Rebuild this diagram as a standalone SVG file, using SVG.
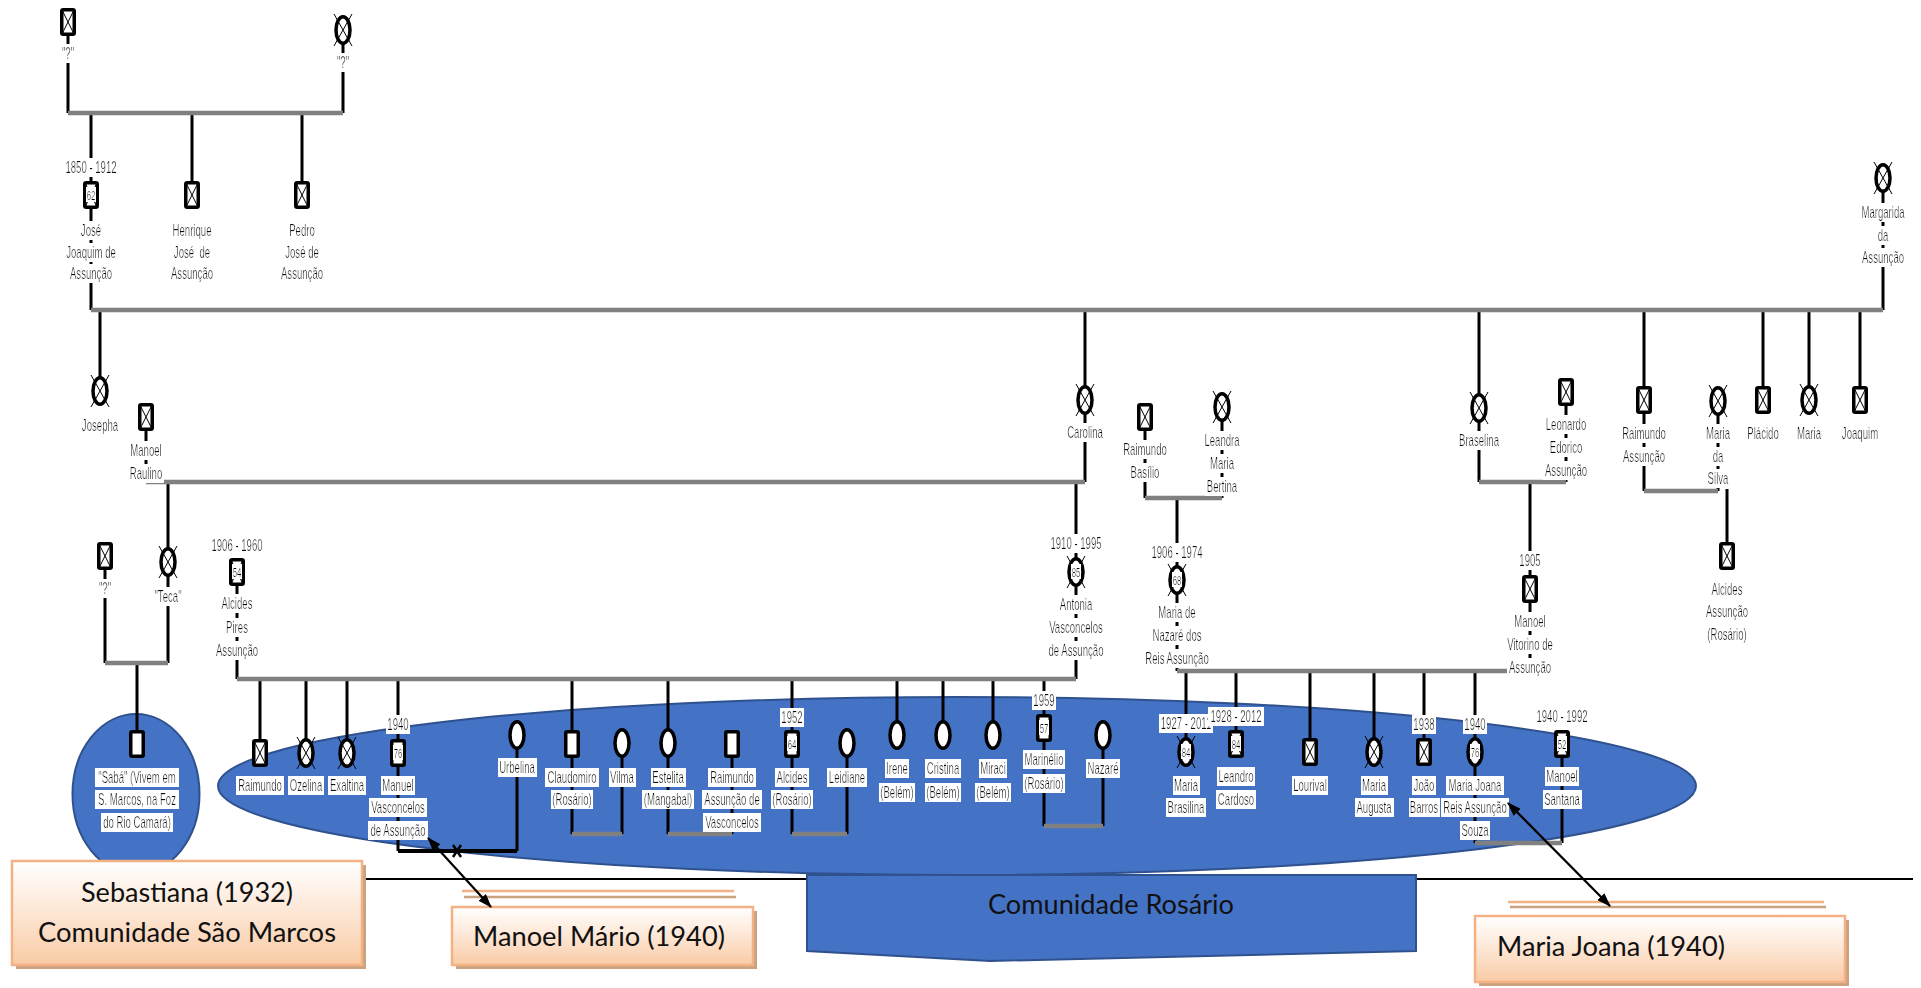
<svg xmlns="http://www.w3.org/2000/svg" width="1921" height="988" viewBox="0 0 1921 988">
<style>
.c{stroke:#000;stroke-width:3;fill:none}
.g{stroke:#808080;stroke-width:4.5;fill:none}
.sym{fill:#fff;stroke:#000;stroke-width:3.5}
.x{stroke:#000;stroke-width:1;fill:none}
.t{font-family:"Liberation Sans",Arial,sans-serif;font-size:16px;text-anchor:middle;fill:#111;filter:url(#wb)}
.n{font-family:"Liberation Sans",Arial,sans-serif;font-size:13px;text-anchor:middle;fill:#000;filter:url(#wb)}
.big{font-family:Lato,"Liberation Sans",sans-serif;font-size:26px;text-anchor:middle;fill:#111}
.box{fill:url(#peach);stroke:#f4b183;stroke-width:2.5}
.sh{fill:#c9a27f}
.blue{fill:#4472c4;stroke:#2f528f;stroke-width:2}
.arr{stroke:#000;stroke-width:2.2;fill:none;marker-start:url(#ah);marker-end:url(#ah)}
</style>
<defs>
<filter id="wb" x="-0.03" y="0" width="1.06" height="1">
<feFlood flood-color="#fff"/>
<feComposite in="SourceGraphic"/>
</filter>
<linearGradient id="peach" x1="0" y1="0" x2="0" y2="1">
<stop offset="0" stop-color="#ffffff"/>
<stop offset="0.5" stop-color="#fde6d4"/>
<stop offset="1" stop-color="#f9cba5"/>
</linearGradient>
<marker id="ah" viewBox="0 0 14 10" refX="13" refY="5" markerWidth="14" markerHeight="10" markerUnits="userSpaceOnUse" orient="auto-start-reverse">
<path d="M0 0L14 5L0 10Z" fill="#000"/>
</marker>
<!-- male (living) -->
<g id="mb"><rect x="-6.25" y="-12.25" width="12.5" height="24.5" rx="1.5" class="sym"/></g>
<!-- male (deceased) -->
<g id="md"><use href="#mb"/><path d="M-6 -12L6 12M6 -12L-6 12" class="x"/></g>
<!-- female (living) -->
<g id="fb"><ellipse rx="7" ry="13.25" class="sym"/></g>
<!-- female (deceased) -->
<g id="fd"><use href="#fb"/><path d="M-9 -16L9 16M9 -16L-9 16" class="x"/></g>
</defs>

<rect width="1921" height="988" fill="#fff"/>

<!-- community areas -->
<g id="areas">
<ellipse cx="957" cy="786" rx="739" ry="89" class="blue"/>
<ellipse cx="136" cy="794" rx="63.5" ry="80" class="blue"/>
<path d="M365 879H1913" stroke="#000" stroke-width="2"/>
</g>

<g id="connectors">
<path class="c" d="M68 22V113M343 30V113M91 113V310M192 113V195M302 113V195M1883 178V310"/>
<path class="c" d="M100 310V391M146 417V482M1085 310V482M1145 417V498M1222 407V498M1479 310V482M1566 392V482M1644 310V491M1718 401V491M1763 310V400M1809 310V400M1860 310V400M1727 489V556"/>
<path class="c" d="M168 482V663M105 556V663M137 663V744M237 572V679M1076 482V679M1177 498V671M1530 482V671"/>
<path class="c" d="M260 679V753M306 679V753M347 679V753M398 679V851M517 735V851M572 679V834M622 743V834M668 679V834M732 744V834M792 679V834M847 743V834M897 679V735M943 679V735M993 679V735M1044 679V826M1103 735V826"/>
<path class="c" d="M1186 671V752M1236 671V744M1310 671V752M1374 671V752M1424 671V752M1475 671V843M1562 744V843"/>
<path d="M398 851H517" stroke="#000" stroke-width="4" fill="none"/>
<path d="M453 845L461 857M461 845L453 857" stroke="#000" stroke-width="2.5"/>
<path class="g" d="M68 113H343M91 310H1883M146 482H1085M1145 498H1222M1479 482H1566M1644 491H1718M105 663H168M237 679H1076M1177 671H1530"/>
<path class="g" d="M572 834H622M668 834H732M792 834H847M1044 826H1103M1475 843H1562"/>
</g>

<g id="n-pai"><use href="#md" x="68" y="22"/><text class="t" transform="translate(68 59) scale(.6 1)">"?"</text></g>
<g id="n-mae"><use href="#fd" x="343" y="30"/><text class="t" transform="translate(343 68) scale(.6 1)">"?"</text></g>

<g id="n-jose">
<text class="t" transform="translate(91 173) scale(.6 1)">1850 - 1912</text>
<use href="#md" x="91" y="195"/><text class="n" transform="translate(91 199.5) scale(.6 1)">62</text>
<text class="t" transform="translate(91 236) scale(.6 1)">José</text>
<text class="t" transform="translate(91 258) scale(.6 1)">Joaquim de</text>
<text class="t" transform="translate(91 279) scale(.6 1)">Assunção</text>
</g>
<g id="n-henrique"><use href="#md" x="192" y="195"/>
<text class="t" transform="translate(192 236) scale(.6 1)">Henrique</text>
<text class="t" transform="translate(192 258) scale(.6 1)">José&#160; de</text>
<text class="t" transform="translate(192 279) scale(.6 1)">Assunção</text>
</g>
<g id="n-pedro"><use href="#md" x="302" y="195"/>
<text class="t" transform="translate(302 236) scale(.6 1)">Pedro</text>
<text class="t" transform="translate(302 258) scale(.6 1)">José de</text>
<text class="t" transform="translate(302 279) scale(.6 1)">Assunção</text>
</g>
<g id="n-margarida"><use href="#fd" x="1883" y="178"/>
<text class="t" transform="translate(1883 218) scale(.6 1)">Margarida</text>
<text class="t" transform="translate(1883 241) scale(.6 1)">da</text>
<text class="t" transform="translate(1883 263) scale(.6 1)">Assunção</text>
</g>

<g id="n-josepha"><use href="#fd" x="100" y="391"/><text class="t" transform="translate(100 431) scale(.6 1)">Josepha</text></g>
<g id="n-raulino"><use href="#md" x="146" y="417"/>
<text class="t" transform="translate(146 456) scale(.6 1)">Manoel</text>
<text class="t" transform="translate(146 479) scale(.6 1)">Raulino</text>
</g>
<g id="n-carolina"><use href="#fd" x="1085" y="400"/><text class="t" transform="translate(1085 438) scale(.6 1)">Carolina</text></g>
<g id="n-basilio"><use href="#md" x="1145" y="417"/>
<text class="t" transform="translate(1145 455) scale(.6 1)">Raimundo</text>
<text class="t" transform="translate(1145 478) scale(.6 1)">Basílio</text>
</g>
<g id="n-leandra"><use href="#fd" x="1222" y="407"/>
<text class="t" transform="translate(1222 446) scale(.6 1)">Leandra</text>
<text class="t" transform="translate(1222 469) scale(.6 1)">Maria</text>
<text class="t" transform="translate(1222 492) scale(.6 1)">Bertina</text>
</g>
<g id="n-braselina"><use href="#fd" x="1479" y="408"/><text class="t" transform="translate(1479 446) scale(.6 1)">Braselina</text></g>
<g id="n-leonardo"><use href="#md" x="1566" y="392"/>
<text class="t" transform="translate(1566 430) scale(.6 1)">Leonardo</text>
<text class="t" transform="translate(1566 453) scale(.6 1)">Edorico</text>
<text class="t" transform="translate(1566 476) scale(.6 1)">Assunção</text>
</g>
<g id="n-raimundo-a"><use href="#md" x="1644" y="400"/>
<text class="t" transform="translate(1644 439) scale(.6 1)">Raimundo</text>
<text class="t" transform="translate(1644 462) scale(.6 1)">Assunção</text>
</g>
<g id="n-maria-silva"><use href="#fd" x="1718" y="401"/>
<text class="t" transform="translate(1718 439) scale(.6 1)">Maria</text>
<text class="t" transform="translate(1718 462) scale(.6 1)">da</text>
<text class="t" transform="translate(1718 484) scale(.6 1)">Silva</text>
</g>
<g id="n-placido"><use href="#md" x="1763" y="400"/><text class="t" transform="translate(1763 439) scale(.6 1)">Plácido</text></g>
<g id="n-maria"><use href="#fd" x="1809" y="400"/><text class="t" transform="translate(1809 439) scale(.6 1)">Maria</text></g>
<g id="n-joaquim"><use href="#md" x="1860" y="400"/><text class="t" transform="translate(1860 439) scale(.6 1)">Joaquim</text></g>
<g id="n-alcides-a"><use href="#md" x="1727" y="556"/>
<text class="t" transform="translate(1727 595) scale(.6 1)">Alcides</text>
<text class="t" transform="translate(1727 617) scale(.6 1)">Assunção</text>
<text class="t" transform="translate(1727 640) scale(.6 1)">(Rosário)</text>
</g>

<g id="n-pai-saba"><use href="#md" x="105" y="556"/><text class="t" transform="translate(105 594) scale(.6 1)">"?"</text></g>
<g id="n-teca"><use href="#fd" x="168" y="562"/><text class="t" transform="translate(168 602) scale(.6 1)">"Teca"</text></g>
<g id="n-saba"><use href="#mb" x="137" y="744"/>
<text class="t" transform="translate(137 783) scale(.6 1)">"Sabá" (Vivem em</text>
<text class="t" transform="translate(137 805) scale(.6 1)">S. Marcos, na Foz</text>
<text class="t" transform="translate(137 828) scale(.6 1)">do Rio Camará)</text>
</g>
<g id="n-alcides-p">
<text class="t" transform="translate(237 551) scale(.6 1)">1906 - 1960</text>
<use href="#md" x="237" y="572"/><text class="n" transform="translate(237 576.5) scale(.6 1)">54</text>
<text class="t" transform="translate(237 609) scale(.6 1)">Alcides</text>
<text class="t" transform="translate(237 633) scale(.6 1)">Pires</text>
<text class="t" transform="translate(237 656) scale(.6 1)">Assunção</text>
</g>
<g id="n-antonia">
<text class="t" transform="translate(1076 549) scale(.6 1)">1910 - 1995</text>
<use href="#fd" x="1076" y="572"/><text class="n" transform="translate(1076 576.5) scale(.6 1)">85</text>
<text class="t" transform="translate(1076 610) scale(.6 1)">Antonia</text>
<text class="t" transform="translate(1076 633) scale(.6 1)">Vasconcelos</text>
<text class="t" transform="translate(1076 656) scale(.6 1)">de Assunção</text>
</g>
<g id="n-nazare-reis">
<text class="t" transform="translate(1177 558) scale(.6 1)">1906 - 1974</text>
<use href="#fd" x="1177" y="580"/><text class="n" transform="translate(1177 584.5) scale(.6 1)">68</text>
<text class="t" transform="translate(1177 618) scale(.6 1)">Maria de</text>
<text class="t" transform="translate(1177 641) scale(.6 1)">Nazaré dos</text>
<text class="t" transform="translate(1177 664) scale(.6 1)">Reis Assunção</text>
</g>
<g id="n-vitorino">
<text class="t" transform="translate(1530 566) scale(.6 1)">1905</text>
<use href="#md" x="1530" y="589"/>
<text class="t" transform="translate(1530 627) scale(.6 1)">Manoel</text>
<text class="t" transform="translate(1530 650) scale(.6 1)">Vitorino de</text>
<text class="t" transform="translate(1530 673) scale(.6 1)">Assunção</text>
</g>

<g id="n-raimundo"><use href="#md" x="260" y="753"/><text class="t" transform="translate(260 791) scale(.6 1)">Raimundo</text></g>
<g id="n-ozelina"><use href="#fd" x="306" y="753"/><text class="t" transform="translate(306 791) scale(.6 1)">Ozelina</text></g>
<g id="n-exaltina"><use href="#fd" x="347" y="753"/><text class="t" transform="translate(347 791) scale(.6 1)">Exaltina</text></g>
<g id="n-manuel">
<text class="t" transform="translate(398 730) scale(.6 1)">1940</text>
<use href="#mb" x="398" y="753"/><text class="n" transform="translate(398 757.5) scale(.6 1)">76</text>
<text class="t" transform="translate(398 791) scale(.6 1)">Manuel</text>
<text class="t" transform="translate(398 813) scale(.6 1)">Vasconcelos</text>
<text class="t" transform="translate(398 836) scale(.6 1)">de Assunção</text>
</g>
<g id="n-urbelina"><use href="#fb" x="517" y="735"/><text class="t" transform="translate(517 773) scale(.6 1)">Urbelina</text></g>
<g id="n-claudomiro"><use href="#mb" x="572" y="744"/>
<text class="t" transform="translate(572 783) scale(.6 1)">Claudomiro</text>
<text class="t" transform="translate(572 805) scale(.6 1)">(Rosário)</text>
</g>
<g id="n-vilma"><use href="#fb" x="622" y="743"/><text class="t" transform="translate(622 783) scale(.6 1)">Vilma</text></g>
<g id="n-estelita"><use href="#fb" x="668" y="743"/>
<text class="t" transform="translate(668 783) scale(.6 1)">Estelita</text>
<text class="t" transform="translate(668 805) scale(.6 1)">(Mangabal)</text>
</g>
<g id="n-raimundo-av"><use href="#mb" x="732" y="744"/>
<text class="t" transform="translate(732 783) scale(.6 1)">Raimundo</text>
<text class="t" transform="translate(732 805) scale(.6 1)">Assunção de</text>
<text class="t" transform="translate(732 828) scale(.6 1)">Vasconcelos</text>
</g>
<g id="n-alcides">
<text class="t" transform="translate(792 723) scale(.6 1)">1952</text>
<use href="#mb" x="792" y="744"/><text class="n" transform="translate(792 748.5) scale(.6 1)">64</text>
<text class="t" transform="translate(792 783) scale(.6 1)">Alcides</text>
<text class="t" transform="translate(792 805) scale(.6 1)">(Rosário)</text>
</g>
<g id="n-leidiane"><use href="#fb" x="847" y="743"/><text class="t" transform="translate(847 783) scale(.6 1)">Leidiane</text></g>
<g id="n-irene"><use href="#fb" x="897" y="735"/>
<text class="t" transform="translate(897 774) scale(.6 1)">Irene</text>
<text class="t" transform="translate(897 798) scale(.6 1)">(Belém)</text>
</g>
<g id="n-cristina"><use href="#fb" x="943" y="735"/>
<text class="t" transform="translate(943 774) scale(.6 1)">Cristina</text>
<text class="t" transform="translate(943 798) scale(.6 1)">(Belém)</text>
</g>
<g id="n-miraci"><use href="#fb" x="993" y="735"/>
<text class="t" transform="translate(993 774) scale(.6 1)">Miraci</text>
<text class="t" transform="translate(993 798) scale(.6 1)">(Belém)</text>
</g>
<g id="n-marinelio">
<text class="t" transform="translate(1044 706) scale(.6 1)">1959</text>
<use href="#mb" x="1044" y="728"/><text class="n" transform="translate(1044 732.5) scale(.6 1)">57</text>
<text class="t" transform="translate(1044 765) scale(.6 1)">Marinélio</text>
<text class="t" transform="translate(1044 789) scale(.6 1)">(Rosário)</text>
</g>
<g id="n-nazare"><use href="#fb" x="1103" y="735"/><text class="t" transform="translate(1103 774) scale(.6 1)">Nazaré</text></g>

<g id="n-brasilina">
<text class="t" transform="translate(1186 729) scale(.6 1)">1927 - 2011</text>
<use href="#fd" x="1186" y="752"/><text class="n" transform="translate(1186 756.5) scale(.6 1)">84</text>
<text class="t" transform="translate(1186 791) scale(.6 1)">Maria</text>
<text class="t" transform="translate(1186 813) scale(.6 1)">Brasilina</text>
</g>
<g id="n-leandro">
<text class="t" transform="translate(1236 722) scale(.6 1)">1928 - 2012</text>
<use href="#md" x="1236" y="744"/><text class="n" transform="translate(1236 748.5) scale(.6 1)">84</text>
<text class="t" transform="translate(1236 782) scale(.6 1)">Leandro</text>
<text class="t" transform="translate(1236 805) scale(.6 1)">Cardoso</text>
</g>
<g id="n-lourival"><use href="#md" x="1310" y="752"/><text class="t" transform="translate(1310 791) scale(.6 1)">Lourival</text></g>
<g id="n-maria-augusta"><use href="#fd" x="1374" y="752"/>
<text class="t" transform="translate(1374 791) scale(.6 1)">Maria</text>
<text class="t" transform="translate(1374 813) scale(.6 1)">Augusta</text>
</g>
<g id="n-joao"><text class="t" transform="translate(1424 730) scale(.6 1)">1938</text>
<use href="#md" x="1424" y="752"/>
<text class="t" transform="translate(1424 791) scale(.6 1)">João</text>
<text class="t" transform="translate(1424 813) scale(.6 1)">Barros</text>
</g>
<g id="n-maria-joana"><text class="t" transform="translate(1475 730) scale(.6 1)">1940</text>
<use href="#fb" x="1475" y="752"/><text class="n" transform="translate(1475 756.5) scale(.6 1)">76</text>
<text class="t" transform="translate(1475 791) scale(.6 1)">Maria Joana</text>
<text class="t" transform="translate(1475 813) scale(.6 1)">Reis Assunção</text>
<text class="t" transform="translate(1475 836) scale(.6 1)">Souza</text>
</g>
<g id="n-santana"><text class="t" transform="translate(1562 722) scale(.6 1)">1940 - 1992</text>
<use href="#md" x="1562" y="744"/><text class="n" transform="translate(1562 748.5) scale(.6 1)">52</text>
<text class="t" transform="translate(1562 782) scale(.6 1)">Manoel</text>
<text class="t" transform="translate(1562 805) scale(.6 1)">Santana</text>
</g>

<!-- callout boxes -->
<g id="box-sebastiana">
<rect x="16" y="865" width="350" height="104" class="sh"/>
<rect x="12" y="861" width="350" height="104" class="box"/>
<text class="big" x="187" y="902" textLength="212" lengthAdjust="spacingAndGlyphs">Sebastiana (1932)</text>
<text class="big" x="187" y="942" textLength="298" lengthAdjust="spacingAndGlyphs">Comunidade São Marcos</text>
</g>
<g id="box-rosario">
<path d="M807 875H1416V951L990 961L807 951Z" class="blue"/>
<text class="big" x="1111" y="914" textLength="246" lengthAdjust="spacingAndGlyphs">Comunidade Rosário</text>
</g>
<g id="box-manoel-mario">
<path d="M462 891H734" stroke="#f4b183" stroke-width="2.5"/>
<path d="M464 897H736" stroke="#c9a27f" stroke-width="2.5"/>
<rect x="456" y="911" width="301" height="58" class="sh"/>
<rect x="452" y="907" width="301" height="58" class="box"/>
<text class="big" x="599" y="946" textLength="252" lengthAdjust="spacingAndGlyphs">Manoel Mário (1940)</text>
</g>
<g id="box-maria-joana">
<path d="M1508 902H1824" stroke="#f4b183" stroke-width="2.5"/>
<path d="M1510 907H1826" stroke="#c9a27f" stroke-width="2.5"/>
<rect x="1479" y="920" width="370" height="66" class="sh"/>
<rect x="1475" y="916" width="370" height="66" class="box"/>
<text class="big" x="1611" y="956" textLength="228" lengthAdjust="spacingAndGlyphs">Maria Joana (1940)</text>
</g>

<g id="arrows">
<path class="arr" d="M428 838L491 907"/>
<path class="arr" d="M1508 803L1610 906"/>
</g>
</svg>
